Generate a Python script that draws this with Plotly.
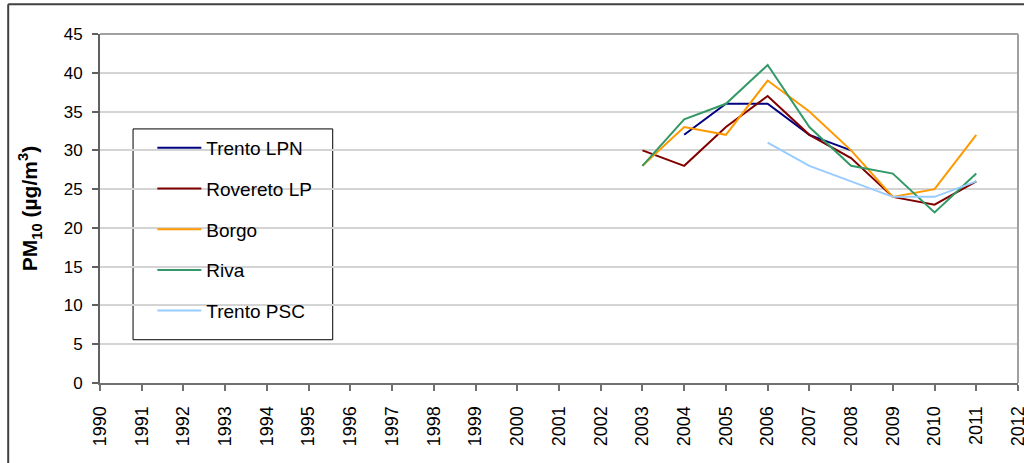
import plotly.graph_objects as go

# Annual mean PM10 concentrations by monitoring station
years = [2003, 2004, 2005, 2006, 2007, 2008, 2009, 2010, 2011]
trento_lpn = [None, 32, 36, 36, 32, 30, None, None, None]
rovereto_lp = [30, 28, 33, 37, 32, 29, 24, 23, 26]
borgo = [28, 33, 32, 39, 35, 30, 24, 25, 32]
riva = [28, 34, 36, 41, 33, 28, 27, 22, 27]
trento_psc = [None, None, None, 31, 28, 26, 24, 24, 26]

series = [
    ("Trento LPN", trento_lpn, "#000080"),
    ("Rovereto LP", rovereto_lp, "#800000"),
    ("Borgo", borgo, "#FF9900"),
    ("Riva", riva, "#339966"),
    ("Trento PSC", trento_psc, "#99CCFF"),
]

x_ticks = list(range(1990, 2013))
y_ticks = list(range(0, 46, 5))

fig = go.Figure()
for i, (name, vals, color) in enumerate(series):
    fig.add_trace(go.Scatter(
        x=years, y=vals, name=name, mode="lines",
        line=dict(color=color, width=2),
        connectgaps=False, legendgroup=f"g{i}",
    ))

font_family = "Arial, Liberation Sans, sans-serif"

fig.update_layout(
    width=1024, height=463,
    margin=dict(l=100, r=6, t=34, b=80),
    paper_bgcolor="white", plot_bgcolor="white",
    font=dict(family=font_family, size=17, color="black"),
    showlegend=True,
    legend=dict(
        x=0.057, y=0.728, xanchor="left", yanchor="top",
        bgcolor="rgba(0,0,0,0)", borderwidth=0,
        font=dict(size=19), traceorder="grouped", tracegroupgap=13,
        itemwidth=44,
    ),
    xaxis=dict(
        range=[1990, 2012], tickmode="array", tickvals=x_ticks,
        ticktext=[str(v) for v in x_ticks], tickangle=-90,
        ticks="outside", ticklen=6, tickcolor="#707070", tickwidth=1.5,
        showline=True, linecolor="#707070", linewidth=2,
        showgrid=False, zeroline=False, mirror=False,
        tickfont=dict(size=18), ticklabelstandoff=8,
        ticklabeloverflow="allow", automargin=False,
    ),
    yaxis=dict(
        range=[0, 45], tickmode="array", tickvals=y_ticks,
        ticks="outside", ticklen=6, tickcolor="#606060", tickwidth=1.5,
        showline=True, linecolor="#606060", linewidth=2,
        showgrid=True, gridcolor="#D4D4D4", gridwidth=1.5,
        zeroline=False, tickfont=dict(size=17), ticklabelstandoff=6,
        automargin=False,
        title=dict(text="<b>PM<sub>10</sub> (µg/m<sup>3</sup>)</b>",
                   font=dict(size=21), standoff=20),
    ),
    shapes=[
        # legend frame, drawn above the grid but below the data lines
        dict(type="rect", xref="paper", yref="paper",
             x0=0.036, x1=0.2535, y0=0.124, y1=0.728, layer="between",
             fillcolor="white", line=dict(color="black", width=1)),
        # plot area top and right edges
        dict(type="line", xref="paper", yref="paper", x0=0, x1=1, y0=1, y1=1,
             line=dict(color="#A0A0A0", width=2)),
        dict(type="line", xref="paper", yref="paper", x0=1, x1=1, y0=0, y1=1,
             line=dict(color="#A0A0A0", width=2)),
        # outer chart frame (top and left)
        dict(type="line", xref="paper", yref="paper", x0=-0.1, x1=1.01,
             y0=1.085, y1=1.085, line=dict(color="#404040", width=2)),
        dict(type="line", xref="paper", yref="paper", x0=-0.1, x1=-0.1,
             y0=-0.3, y1=1.085, line=dict(color="#404040", width=2)),
    ],
)

fig.write_html("out.html")
